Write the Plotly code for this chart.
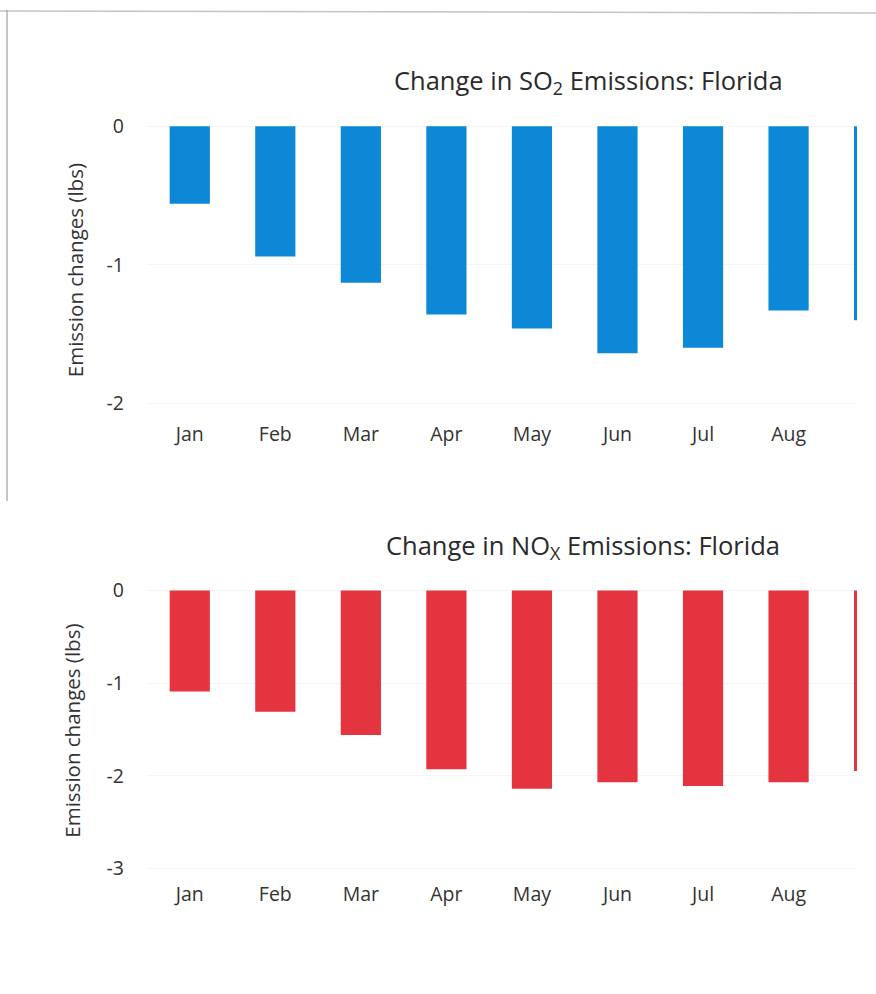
import plotly.graph_objects as go

months = ["Jan", "Feb", "Mar", "Apr", "May", "Jun", "Jul", "Aug", "Sep"]
so2_changes = [-0.56, -0.94, -1.13, -1.36, -1.46, -1.64, -1.60, -1.33, -1.40]
nox_changes = [-1.09, -1.31, -1.56, -1.93, -2.14, -2.07, -2.11, -2.07, -1.95]
so2_ticks = [0, -1, -2]
nox_ticks = [0, -1, -2, -3]

W, H = 876, 994
# calibration of the capture: screen_y ~= 0.987 * fig_y + 8.5
def fy(p): return (p - 8.5) / 0.987
def px_x(p): return p / W
def px_y(p): return 1 - fy(p) / H

font_family = "Open Sans"
txt_col = "#333333"

fig = go.Figure()
fig.add_trace(go.Bar(x=months, y=so2_changes, marker=dict(color="#0c88d6", line=dict(width=0)),
                     xaxis="x", yaxis="y", showlegend=False))
fig.add_trace(go.Bar(x=months, y=nox_changes, marker=dict(color="#e3343f", line=dict(width=0)),
                     xaxis="x2", yaxis="y2", showlegend=False))

xdom = [px_x(147), px_x(857)]
common_x = dict(range=[-0.5, 7.80], showgrid=False, zeroline=False, showline=False,
                ticks="", tickfont=dict(size=19.5, color=txt_col, family=font_family),
                ticklabelstandoff=3)
common_y = dict(showgrid=True, gridcolor="#f6f6f6", zeroline=False, showline=False, ticks="",
                tickfont=dict(size=19.5, color=txt_col, family=font_family), ticklabelstandoff=22)

fig.update_layout(
    width=W, height=H,
    margin=dict(l=0, r=0, t=0, b=0),
    paper_bgcolor="white", plot_bgcolor="white",
    bargap=0.53,
    font=dict(family=font_family, color=txt_col),
    xaxis=dict(domain=xdom, anchor="y", **common_x),
    yaxis=dict(domain=[px_y(416), px_y(118)], anchor="x", range=[-2.1, 0.05],
               tickvals=so2_ticks, ticktext=[str(v) for v in so2_ticks], **common_y),
    xaxis2=dict(domain=xdom, anchor="y2", **common_x),
    yaxis2=dict(domain=[px_y(877), px_y(585)], anchor="x2", range=[-3.1, 0.05],
                tickvals=nox_ticks, ticktext=[str(v) for v in nox_ticks], **common_y),
    annotations=[
        dict(text="Change in SO<sub>2</sub> Emissions: Florida", x=px_x(588), y=px_y(80),
             xref="paper", yref="paper", showarrow=False, xanchor="center", yanchor="middle",
             font=dict(size=25.5, color="#2a2a2a", family=font_family)),
        dict(text="Change in NO<sub>X</sub> Emissions: Florida", x=px_x(583), y=px_y(546),
             xref="paper", yref="paper", showarrow=False, xanchor="center", yanchor="middle",
             font=dict(size=25.5, color="#2a2a2a", family=font_family)),
        dict(text="Emission changes (lbs)", x=px_x(75), y=px_y(269), xref="paper", yref="paper",
             showarrow=False, textangle=-90, xanchor="center", yanchor="middle",
             font=dict(size=20.5, color=txt_col, family=font_family)),
        dict(text="Emission changes (lbs)", x=px_x(72), y=px_y(730), xref="paper", yref="paper",
             showarrow=False, textangle=-90, xanchor="center", yanchor="middle",
             font=dict(size=20.5, color=txt_col, family=font_family)),
    ],
    shapes=[
        dict(type="line", xref="paper", yref="paper", x0=0, x1=1, y0=0.999, y1=0.997,
             line=dict(color="#c4c4c4", width=1.5)),
        dict(type="line", xref="paper", yref="paper", x0=px_x(7), x1=px_x(7), y0=1, y1=px_y(500),
             line=dict(color="#a0a0a0", width=1.2)),
    ],
)

post = ("document.documentElement.style.margin='0';document.body.style.margin='0';"
        "document.body.style.overflow='hidden';"
        "var d=document.getElementById('{plot_id}');d.style.position='absolute';"
        "d.style.left='0px';d.style.top='0px';")
fig.write_html("out.html", post_script=post, config={"displayModeBar": False})
